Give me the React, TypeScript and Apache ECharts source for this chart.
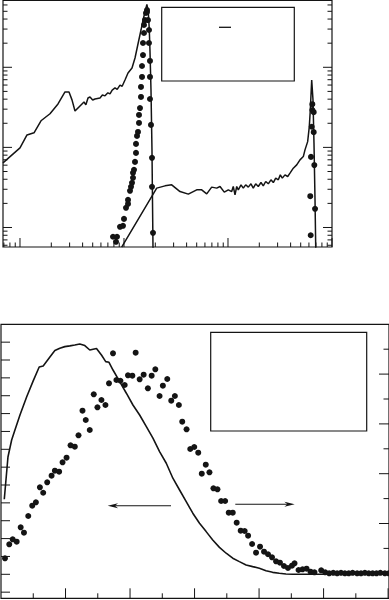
import React, { useEffect, useRef } from "react";
import * as echarts from "echarts";

// ---------- Top panel (log-log) ----------
const TOP_X_RANGE = [0.6864, 1000];
const TOP_Y_RANGE = [0.005707, 6.82];
const TOP_X_MAJOR = [1, 10, 100, 1000];
const TOP_X_MINOR = [0.7, 0.8, 0.9, 2, 3, 4, 5, 6, 7, 8, 9, 20, 30, 40, 50, 60, 70, 80, 90, 200, 300, 400, 500, 600, 700, 800, 900];
const TOP_Y_MAJOR = [0.01, 0.1, 1];
const TOP_Y_MINOR = [0.006, 0.007, 0.008, 0.009, 0.02, 0.03, 0.04, 0.05, 0.06, 0.07, 0.08, 0.09, 0.2, 0.3, 0.4, 0.5, 0.6, 0.7, 0.8, 0.9, 2, 3, 4, 5, 6];

const topLineA: number[][] = [
  [0.686, 0.0641], [1, 0.0986], [1.168, 0.143], [1.364, 0.152], [1.592, 0.215], [1.943, 0.263],
  [2.32, 0.349], [2.708, 0.493], [2.96, 0.493], [3.162, 0.392], [3.38, 0.285], [3.775, 0.329],
  [4.125, 0.369], [4.3, 0.34], [4.507, 0.414], [4.71, 0.426], [5.0, 0.39], [5.26, 0.402],
  [5.877, 0.414], [6.2, 0.45], [6.567, 0.44], [7.0, 0.48], [7.335, 0.465], [7.7, 0.52],
  [8.195, 0.552], [8.6, 0.53], [9.15, 0.6], [9.6, 0.58], [10.22, 0.695], [10.93, 0.849],
  [11.94, 0.98], [12.76, 1.306], [13.63, 1.954], [14.57, 2.918], [15.23, 3.89], [16.0, 5.0],
  [16.6, 6.1], [17.1, 5.0], [17.5, 3.0], [17.78, 1.6], [18.18, 0.521], [18.58, 0.0931],
  [18.79, 0.0221], [19.0, 0.0057], [19.2, 0.004]
];

const topLineB: number[][] = [
  [9.5, 0.0057], [20.63, 0.031], [24.8, 0.0331], [28.75, 0.0341], [34.56, 0.0281], [41.53, 0.0261],
  [50.0, 0.0295], [55.86, 0.0295], [62.42, 0.0263], [69.7, 0.0319], [77.85, 0.031], [83.8, 0.0325],
  [92.1, 0.0276], [100.7, 0.0295], [108.5, 0.0281], [112.4, 0.0325], [116.8, 0.0256], [121.3, 0.0325],
  [125.6, 0.0295], [133.4, 0.0341], [140.3, 0.031], [147.9, 0.0341], [156.7, 0.0319], [166.3, 0.0351],
  [175.0, 0.031], [184.6, 0.0351], [195.5, 0.0325], [207.6, 0.0364], [218.3, 0.0331], [230.4, 0.0375],
  [244.1, 0.0351], [258.8, 0.0394], [272.7, 0.0364], [287.6, 0.0413], [304.6, 0.0394], [318.4, 0.0454],
  [332.8, 0.0413], [353.2, 0.0454], [375.0, 0.0433], [394.5, 0.0477], [424.6, 0.055], [457.8, 0.0605],
  [492.3, 0.0699], [529.9, 0.0768], [550, 0.0931], [583.4, 0.118], [605.0, 0.1817], [618.6, 0.2935],
  [638.0, 0.695], [656.6, 0.391], [671.2, 0.1128], [686.6, 0.0221], [697.3, 0.0058], [700, 0.004]
];

const topDotsA: number[][] = [
  [7.84, 0.00766], [8.56, 0.00766], [8.38, 0.00663], [9.15, 0.0102], [9.78, 0.0105], [10.0, 0.0128],
  [10.45, 0.0176], [10.93, 0.0197], [10.93, 0.0221], [11.42, 0.0287], [11.68, 0.0322], [11.94, 0.0361],
  [12.2, 0.0417], [12.2, 0.0481], [12.48, 0.0525], [12.76, 0.0659], [13.04, 0.0854], [13.04, 0.1106],
  [13.34, 0.139], [13.63, 0.156], [13.94, 0.202], [13.94, 0.254], [14.25, 0.31], [14.57, 0.426],
  [14.57, 0.568], [14.9, 0.757], [14.9, 1.038], [15.23, 1.42], [15.23, 2.01], [15.57, 2.68],
  [15.57, 3.37], [15.92, 3.89], [16.27, 4.76], [16.64, 5.18], [16.64, 4.89], [17.01, 3.89],
  [17.39, 2.92], [17.39, 2.01], [17.78, 1.2], [17.78, 0.757], [17.78, 0.402], [18.18, 0.191],
  [18.58, 0.074], [18.58, 0.0322], [19.0, 0.00857]
];

const topDotsB: number[][] = [
  [624, 0.008], [618, 0.0246], [628, 0.0761], [638, 0.181], [647, 0.346],
  [647, 0.293], [667, 0.275], [667, 0.155], [676, 0.0601], [687, 0.0171]
];

// ---------- Bottom panel (linear, two y axes) ----------
const BOT_X_RANGE = [0, 6.014];
const BOT_YL_RANGE = [-1.344, 14.0];
const BOT_YR_RANGE = [-0.502, 5.0];
const BOT_X_MAJOR = [1, 2, 3, 4, 5, 6];
const BOT_X_MINOR = [0.5, 1.5, 2.5, 3.5, 4.5, 5.5];
const BOT_YL_TICKS = [-1, 0, 1, 2, 3, 4, 5, 6, 7, 8, 9, 10, 11, 12, 13];
const BOT_YR_MAJOR = [0, 1, 2, 3, 4];
const BOT_YR_MINOR = [0.5, 1.5, 2.5, 3.5, 4.5];

const botLine: number[][] = [
  [0.051, 4.2], [0.108, 6.57], [0.165, 7.52], [0.216, 8.08], [0.294, 8.92], [0.397, 9.93],
  [0.499, 10.83], [0.592, 11.61], [0.654, 11.67], [0.758, 12.17], [0.835, 12.53], [0.912, 12.66],
  [0.989, 12.75], [1.067, 12.79], [1.144, 12.84], [1.221, 12.9], [1.299, 12.81], [1.376, 12.56],
  [1.48, 12.65], [1.557, 12.28], [1.623, 11.91], [1.674, 11.87], [1.736, 11.44], [1.84, 10.79],
  [1.943, 10.14], [2.045, 9.48], [2.149, 8.92], [2.253, 8.27], [2.355, 7.62], [2.458, 6.87],
  [2.562, 6.22], [2.664, 5.38], [2.768, 4.72], [2.871, 4.07], [2.973, 3.42], [3.077, 2.86],
  [3.18, 2.39], [3.282, 1.92], [3.386, 1.51], [3.49, 1.18], [3.592, 0.9], [3.695, 0.71],
  [3.799, 0.52], [3.901, 0.43], [4.004, 0.34], [4.108, 0.2], [4.21, 0.11], [4.314, 0.06],
  [4.417, 0.02], [4.519, 0.0], [5.0, 0.0], [5.5, 0.0], [6.02, 0.0]
];

const botDots: number[][] = [
  [0.062, 0.301], [0.128, 0.582], [0.181, 0.683], [0.243, 0.635], [0.305, 0.924], [0.356, 0.815],
  [0.422, 1.151], [0.484, 1.357], [0.541, 1.426], [0.603, 1.727], [0.654, 1.618], [0.716, 1.827],
  [0.784, 1.96], [0.835, 2.06], [0.901, 2.04], [0.954, 2.229], [1.016, 2.321], [1.078, 2.57],
  [1.144, 2.542], [1.201, 2.771], [1.263, 3.265], [1.314, 3.078], [1.376, 2.878], [1.438, 3.594],
  [1.495, 3.333], [1.557, 3.48], [1.619, 3.38], [1.674, 3.815], [1.736, 4.418], [1.789, 3.881],
  [1.851, 3.867], [1.917, 3.781], [1.968, 3.976], [2.036, 3.968], [2.087, 4.43], [2.149, 3.896],
  [2.211, 3.988], [2.277, 3.715], [2.335, 3.968], [2.392, 4.096], [2.458, 3.56], [2.509, 3.767],
  [2.577, 3.902], [2.639, 3.466], [2.695, 3.56], [2.757, 3.38], [2.809, 3.044], [2.876, 2.892],
  [2.933, 2.496], [2.995, 2.536], [3.057, 2.422], [3.112, 2.0], [3.174, 2.181], [3.231, 2.028],
  [3.293, 1.707], [3.355, 1.687], [3.412, 1.452], [3.474, 1.452], [3.53, 1.217], [3.592, 1.217],
  [3.653, 1.016], [3.715, 0.855], [3.777, 0.849], [3.83, 0.755], [3.892, 0.588], [3.953, 0.414],
  [4.015, 0.534], [4.077, 0.434], [4.139, 0.382], [4.201, 0.321], [4.263, 0.241], [4.324, 0.213],
  [4.386, 0.147], [4.448, 0.106], [4.51, 0.153], [4.55, 0.201], [4.612, 0.066], [4.674, 0.08],
  [4.736, 0.092], [4.797, 0.032], [4.859, 0.02], [4.963, 0.06], [5.025, 0.02], [5.087, 0.0],
  [5.15, 0.01], [5.21, 0.0], [5.27, 0.01], [5.33, 0.0], [5.39, 0.0], [5.45, 0.01], [5.52, 0.0],
  [5.58, 0.0], [5.64, 0.01], [5.7, 0.0], [5.76, 0.0], [5.82, 0.0], [5.88, 0.01], [5.95, 0.0], [6.01, 0.0]
];

const INK = "#141414";

type Side = "bottom" | "left" | "right";

function tickSeries(
  xAxisIndex: number,
  yAxisIndex: number,
  side: Side,
  majors: number[],
  minors: number[],
  ref: number,
  majorLen: number,
  minorLen: number
) {
  const mk = (v: number, m: number) => (side === "bottom" ? [v, ref, m] : [ref, v, m]);
  return {
    type: "custom",
    xAxisIndex,
    yAxisIndex,
    silent: true,
    z: 6,
    clip: false,
    data: [...majors.map((v) => mk(v, 1)), ...minors.map((v) => mk(v, 0))],
    renderItem: (_params: any, api: any) => {
      const p = api.coord([api.value(0), api.value(1)]);
      const len = api.value(2) ? majorLen : minorLen;
      let x2 = p[0];
      let y2 = p[1];
      if (side === "bottom") y2 -= len;
      else if (side === "left") x2 += len;
      else x2 -= len;
      return {
        type: "line",
        shape: { x1: p[0], y1: p[1], x2, y2 },
        style: { stroke: INK, lineWidth: 1 },
      };
    },
  };
}

export default function App() {
  const ref = useRef<HTMLDivElement>(null);
  useEffect(() => {
    if (!ref.current) return;
    const chart = echarts.init(ref.current, undefined, { renderer: "svg" });
    const hiddenAxis = { show: false };
    const dotStyle = { color: INK, opacity: 1 };
    const option: any = {
      animation: false,
      backgroundColor: "#ffffff",
      grid: [
        { left: 3, top: 0.5, width: 329, height: 246.5, show: true, borderColor: INK, borderWidth: 1.2, backgroundColor: "transparent" },
        { left: 1, top: 324.3, width: 389, height: 274, show: true, borderColor: INK, borderWidth: 1.2, backgroundColor: "transparent" },
      ],
      xAxis: [
        { ...hiddenAxis, type: "log", logBase: 10, gridIndex: 0, min: TOP_X_RANGE[0], max: TOP_X_RANGE[1] },
        { ...hiddenAxis, type: "value", gridIndex: 1, min: BOT_X_RANGE[0], max: BOT_X_RANGE[1] },
      ],
      yAxis: [
        { ...hiddenAxis, type: "log", logBase: 10, gridIndex: 0, min: TOP_Y_RANGE[0], max: TOP_Y_RANGE[1] },
        { ...hiddenAxis, type: "value", gridIndex: 1, min: BOT_YL_RANGE[0], max: BOT_YL_RANGE[1], position: "left" },
        { ...hiddenAxis, type: "value", gridIndex: 1, min: BOT_YR_RANGE[0], max: BOT_YR_RANGE[1], position: "right" },
      ],
      series: [
        tickSeries(0, 0, "bottom", TOP_X_MAJOR, TOP_X_MINOR, TOP_Y_RANGE[0], 9, 4.5),
        tickSeries(0, 0, "left", TOP_Y_MAJOR, TOP_Y_MINOR, TOP_X_RANGE[0], 9, 4.5),
        tickSeries(0, 0, "right", TOP_Y_MAJOR, TOP_Y_MINOR, TOP_X_RANGE[1], 9, 4.5),
        tickSeries(1, 1, "bottom", BOT_X_MAJOR, BOT_X_MINOR, BOT_YL_RANGE[0], 10, 5),
        tickSeries(1, 1, "left", BOT_YL_TICKS, [], BOT_X_RANGE[0], 9, 9),
        tickSeries(1, 2, "right", BOT_YR_MAJOR, BOT_YR_MINOR, BOT_X_RANGE[1], 10, 5.5),
        {
          type: "line", xAxisIndex: 0, yAxisIndex: 0, data: topLineA, showSymbol: false, symbol: "none",
          lineStyle: { color: INK, width: 1.5 }, clip: true, z: 3,
        },
        {
          type: "line", xAxisIndex: 0, yAxisIndex: 0, data: topLineB, showSymbol: false, symbol: "none",
          lineStyle: { color: INK, width: 1.5 }, clip: true, z: 3,
        },
        {
          type: "scatter", xAxisIndex: 0, yAxisIndex: 0, data: topDotsA, symbol: "circle", symbolSize: 6,
          itemStyle: dotStyle, z: 4,
        },
        {
          type: "scatter", xAxisIndex: 0, yAxisIndex: 0, data: topDotsB, symbol: "circle", symbolSize: 6,
          itemStyle: dotStyle, z: 4,
        },
        {
          type: "line", xAxisIndex: 1, yAxisIndex: 1, data: botLine, showSymbol: false, symbol: "none",
          lineStyle: { color: INK, width: 1.6 }, clip: true, z: 3,
        },
        {
          type: "scatter", xAxisIndex: 1, yAxisIndex: 2, data: botDots, symbol: "circle", symbolSize: 6,
          itemStyle: dotStyle, z: 4,
        },
      ],
      graphic: [
        { type: "rect", shape: { x: 161.7, y: 7.3, width: 132.6, height: 73.7 }, style: { fill: "#fff", stroke: INK, lineWidth: 1.2 }, z: 10 },
        { type: "line", shape: { x1: 219, y1: 27.3, x2: 231, y2: 27.3 }, style: { stroke: INK, lineWidth: 1.3 }, z: 11 },
        { type: "rect", shape: { x: 210.7, y: 332.3, width: 156, height: 98.7 }, style: { fill: "#fff", stroke: INK, lineWidth: 1.2 }, z: 10 },
        { type: "line", shape: { x1: 171, y1: 505.7, x2: 112, y2: 505.7 }, style: { stroke: INK, lineWidth: 1.1 }, z: 10 },
        { type: "polygon", shape: { points: [[107.7, 505.7], [118, 503.2], [115, 505.7], [118, 508.2]] }, style: { fill: INK }, z: 10 },
        { type: "line", shape: { x1: 235.3, y1: 504.3, x2: 290, y2: 504.3 }, style: { stroke: INK, lineWidth: 1.1 }, z: 10 },
        { type: "polygon", shape: { points: [[294.7, 504.3], [284.4, 501.8], [287.4, 504.3], [284.4, 506.8]] }, style: { fill: INK }, z: 10 },
      ],
    };
    chart.setOption(option);
    return () => chart.dispose();
  }, []);
  return (
    <div
      ref={ref}
      style={{ position: "absolute", left: 0, top: 0, width: 389, height: 600 }}
    />
  );
}
